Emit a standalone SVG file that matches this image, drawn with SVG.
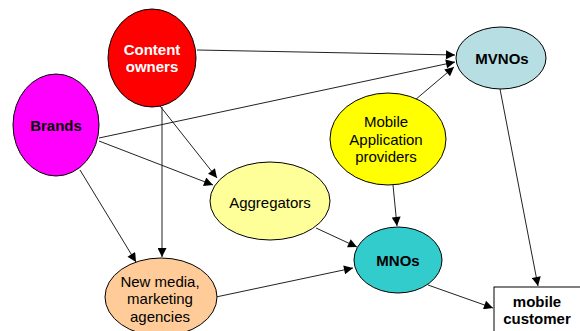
<svg xmlns="http://www.w3.org/2000/svg" width="580" height="331" viewBox="0 0 580 331">
  <defs>
    <marker id="arrow" viewBox="0 0 10 10" refX="10" refY="5" markerWidth="10" markerHeight="9" markerUnits="userSpaceOnUse" orient="auto">
      <path d="M0,0 L10,5 L0,10 z" fill="#000"/>
    </marker>
    <style>
      .node { stroke: #000; stroke-width: 1; }
      .edge { stroke: #222; stroke-width: 1; fill: none; marker-end: url(#arrow); }
      text { font-family: "Liberation Sans", Arial, sans-serif; font-size: 15px; text-anchor: middle; fill: #000; }
      .b { font-weight: bold; }
    </style>
  </defs>
  <rect width="580" height="331" fill="#fff"/>

  <g id="connectors">
    <line class="edge" x1="197" y1="50" x2="455" y2="55"/>
    <line class="edge" x1="99" y1="138" x2="455" y2="62"/>
    <line class="edge" x1="415" y1="100" x2="454" y2="67"/>
    <line class="edge" x1="160" y1="106" x2="217" y2="178"/>
    <line class="edge" x1="99" y1="141" x2="213" y2="185"/>
    <line class="edge" x1="80" y1="170" x2="136" y2="262"/>
    <line class="edge" x1="162" y1="107" x2="162" y2="257"/>
    <line class="edge" x1="393" y1="185" x2="397" y2="226"/>
    <line class="edge" x1="316" y1="228" x2="357" y2="247"/>
    <line class="edge" x1="216" y1="297" x2="353" y2="268"/>
    <line class="edge" x1="500" y1="89" x2="538" y2="286"/>
    <line class="edge" x1="428" y1="285" x2="493" y2="308"/>
  </g>

  <g id="content-owners">
    <ellipse class="node" cx="152" cy="58" rx="44" ry="49" fill="#FF0000"/>
    <text class="b" x="152" y="55" fill="#fff" style="fill:#fff">Content</text>
    <text class="b" x="152" y="72" style="fill:#fff">owners</text>
  </g>

  <g id="brands">
    <ellipse class="node" cx="56" cy="125" rx="43" ry="51" fill="#FF00FF"/>
    <text class="b" x="56" y="131">Brands</text>
  </g>

  <g id="mvnos">
    <ellipse class="node" cx="501" cy="58" rx="45" ry="31" fill="#B7DFE3"/>
    <text class="b" x="502" y="64">MVNOs</text>
  </g>

  <g id="mobile-app-providers">
    <ellipse class="node" cx="388" cy="139" rx="58" ry="46" fill="#FFFF00"/>
    <text x="386" y="127">Mobile</text>
    <text x="386" y="145">Application</text>
    <text x="386" y="162">providers</text>
  </g>

  <g id="aggregators">
    <ellipse class="node" cx="270" cy="201" rx="60" ry="39" fill="#FFFF99"/>
    <text x="270" y="208">Aggregators</text>
  </g>

  <g id="mnos">
    <ellipse class="node" cx="398" cy="260" rx="44" ry="33" fill="#33CCCC"/>
    <text class="b" x="398" y="266">MNOs</text>
  </g>

  <g id="new-media">
    <ellipse class="node" cx="161" cy="297" rx="56" ry="39" fill="#FFCC99"/>
    <text x="160" y="287">New media,</text>
    <text x="160" y="304">marketing</text>
    <text x="160" y="322">agencies</text>
  </g>

  <g id="mobile-customer">
    <rect class="node" x="494" y="287" width="100" height="60" fill="#fff"/>
    <text class="b" x="537" y="307">mobile</text>
    <text class="b" x="537" y="324">customer</text>
  </g>
</svg>
